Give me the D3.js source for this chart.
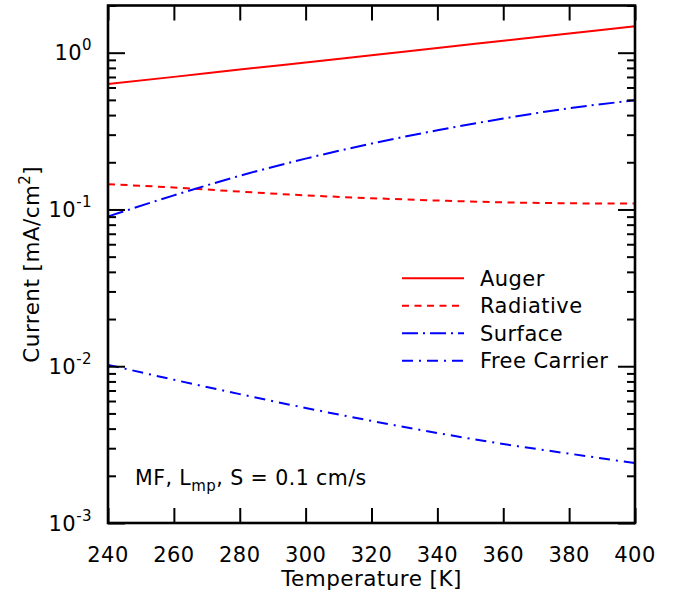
<!DOCTYPE html>
<html><head><meta charset="utf-8">
<script src="https://cdn.jsdelivr.net/npm/d3@7"></script>
<style>
html,body{margin:0;padding:0;background:#fff;}
svg text{font-family:"DejaVu Sans",Verdana,sans-serif;fill:#000;letter-spacing:0.45px;}
</style></head>
<body><svg id="chart" width="673" height="605"></svg>
<script>
const temperatures = [240, 260, 280, 300, 320, 340, 360, 380, 400];
const auger        = [0.631, 0.701, 0.780, 0.867, 0.964, 1.072, 1.191, 1.324, 1.472];
const radiative    = [0.145, 0.138, 0.130, 0.123, 0.118, 0.114, 0.111, 0.1095, 0.109];
const surface      = [0.0902, 0.123, 0.164, 0.211, 0.263, 0.320, 0.380, 0.442, 0.497];
const freeCarrier  = [0.01021, 0.00820, 0.00664, 0.00542, 0.00448, 0.00375, 0.00319, 0.00277, 0.00241];
const seriesNames  = ["Auger", "Radiative", "Surface", "Free Carrier"];
const xTicks = [240, 260, 280, 300, 320, 340, 360, 380, 400];
const yMajorTicks = [1e-3, 1e-2, 1e-1, 1];
const yTickExponents = ["-3", "-2", "-1", "0"];

const svg = d3.select("#chart");
const L = 108, R = 635, T = 5.5, B = 523;
const x = d3.scaleLinear().domain([240, 400]).range([L, R]);
const y = d3.scaleLog().domain([1e-3, 2]).range([B, T]);

const styles = [
  {color: "#ff0000", dash: null},
  {color: "#ff0000", dash: "7,5.5"},
  {color: "#0000ff", dash: "16,5,2,5"},
  {color: "#0000ff", dash: "11,6,2,6"}
];
const allSeries = [auger, radiative, surface, freeCarrier];

svg.append("clipPath").attr("id","clip").append("rect")
  .attr("x", L).attr("y", T).attr("width", R-L).attr("height", B-T);

const line = d3.line().x((d,i)=>x(temperatures[i])).y(d=>y(d)).curve(d3.curveMonotoneX);
const g = svg.append("g").attr("clip-path","url(#clip)");
allSeries.forEach((s,k)=>{
  g.append("path").datum(s).attr("d", line)
    .attr("fill","none").attr("stroke", styles[k].color).attr("stroke-width", 2)
    .attr("stroke-dasharray", styles[k].dash);
});

const minor = [];
for (let e = -3; e <= 0; e++) for (let m = 2; m <= 9; m++) { const v = m*Math.pow(10,e); if (v <= 2) minor.push(v); }

const tickStyle = sel => { sel.select(".domain").remove(); sel.selectAll("line").attr("stroke","#000").attr("stroke-width",2); sel.selectAll("text").remove(); };

svg.append("g").attr("transform",`translate(${L},0)`).call(d3.axisLeft(y).tickValues(minor).tickSize(-8)).call(tickStyle);
svg.append("g").attr("transform",`translate(${L},0)`).call(d3.axisLeft(y).tickValues(yMajorTicks).tickSize(-17)).call(tickStyle);
svg.append("g").attr("transform",`translate(${R},0)`).call(d3.axisRight(y).tickValues(minor).tickSize(-8)).call(tickStyle);
svg.append("g").attr("transform",`translate(${R},0)`).call(d3.axisRight(y).tickValues(yMajorTicks).tickSize(-17)).call(tickStyle);
svg.append("g").attr("transform",`translate(0,${B})`).call(d3.axisBottom(x).tickValues(xTicks).tickSize(-15)).call(tickStyle);
svg.append("g").attr("transform",`translate(0,${T})`).call(d3.axisTop(x).tickValues(xTicks).tickSize(-15)).call(tickStyle);

svg.append("rect").attr("x",L).attr("y",T).attr("width",R-L).attr("height",B-T)
  .attr("fill","none").attr("stroke","#000").attr("stroke-width",2.6);

svg.selectAll(".xl").data(xTicks).enter().append("text")
  .attr("x", d=>x(d)).attr("y", 562).attr("text-anchor","middle")
  .style("font-size","21px").text(d=>d);

yMajorTicks.forEach((v,i)=>{
  const t = svg.append("text").attr("x", 92).attr("y", y(v)+7.5).attr("text-anchor","end").style("font-size","21px");
  t.append("tspan").text("10");
  t.append("tspan").attr("dy", -10).style("font-size","15px").text(yTickExponents[i]);
});

svg.append("text").attr("x", (L+R)/2).attr("y", 586).attr("text-anchor","middle")
  .style("font-size","21.5px").text("Temperature [K]");
const yl = svg.append("text").attr("transform",`translate(39,${(T+B)/2}) rotate(-90)`)
  .attr("text-anchor","middle").style("font-size","21.5px");
yl.append("tspan").text("Current [mA/cm");
yl.append("tspan").attr("dy",-9).style("font-size","15px").text("2");
yl.append("tspan").attr("dy",9).text("]");

seriesNames.forEach((n,k)=>{
  const ly = 278.3 + k*27.5;
  svg.append("line").attr("x1",402).attr("x2",464).attr("y1",ly).attr("y2",ly)
    .attr("stroke",styles[k].color).attr("stroke-width",2).attr("stroke-dasharray",styles[k].dash);
  svg.append("text").attr("x",480).attr("y",ly+7.5).style("font-size","21px").text(n);
});

const an = svg.append("text").attr("x",135).attr("y",485).style("font-size","20.5px");
an.append("tspan").text("MF, L");
an.append("tspan").attr("dy",6).style("font-size","15px").text("mp");
an.append("tspan").attr("dy",-6).text(", S = 0.1 cm/s");
</script></body></html>
